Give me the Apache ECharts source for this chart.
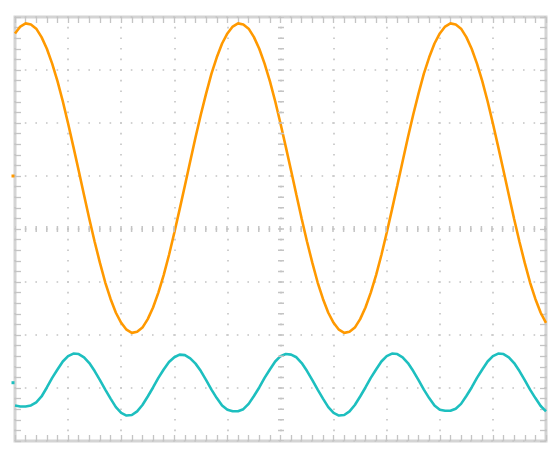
<!DOCTYPE html>
<html>
<head>
<meta charset="utf-8">
<style>
  html, body { margin: 0; padding: 0; background: #fff; }
  #main { width: 560px; height: 457px; }
</style>
<script src="https://cdn.jsdelivr.net/npm/echarts@6/dist/echarts.min.js"></script>
</head>
<body>
<div id="main"></div>
<script>
// 采样间隔（每格 0.1）
const sampleStep = 0.1

// 通道1（橙色）读数，单位：格
const orangeWave = [
  3.69, 3.82, 3.88, 3.86, 3.78, 3.62, 3.40, 3.12, 2.79, 2.41,
  1.99, 1.55, 1.10, 0.64, 0.19, -0.24, -0.64, -1.01, -1.32, -1.58,
  -1.77, -1.90, -1.96, -1.94, -1.86, -1.70, -1.48, -1.20, -0.87, -0.49,
  -0.07, 0.37, 0.82, 1.28, 1.73, 2.16, 2.56, 2.93, 3.24, 3.50,
  3.69, 3.82, 3.88, 3.86, 3.78, 3.62, 3.40, 3.12, 2.79, 2.41,
  1.99, 1.55, 1.10, 0.64, 0.19, -0.24, -0.64, -1.01, -1.32, -1.58,
  -1.77, -1.90, -1.96, -1.94, -1.86, -1.70, -1.48, -1.20, -0.87, -0.49,
  -0.07, 0.37, 0.82, 1.28, 1.73, 2.16, 2.56, 2.93, 3.24, 3.50,
  3.69, 3.82, 3.88, 3.86, 3.78, 3.62, 3.40, 3.12, 2.79, 2.41,
  1.99, 1.55, 1.10, 0.64, 0.19, -0.24, -0.64, -1.01, -1.32, -1.58,
  -1.77,
]

// 通道2（青色）读数，单位：格
const cyanWave = [
  -3.33, -3.35, -3.35, -3.33, -3.27, -3.16, -2.99, -2.81, -2.65, -2.50,
  -2.40, -2.35, -2.36, -2.42, -2.53, -2.68, -2.85, -3.03, -3.20, -3.36,
  -3.47, -3.52, -3.51, -3.44, -3.32, -3.16, -2.99, -2.81, -2.65, -2.51,
  -2.42, -2.37, -2.38, -2.44, -2.54, -2.68, -2.85, -3.03, -3.19, -3.33,
  -3.41, -3.44, -3.44, -3.40, -3.30, -3.15, -2.99, -2.81, -2.65, -2.50,
  -2.40, -2.36, -2.37, -2.42, -2.53, -2.68, -2.85, -3.03, -3.20, -3.36,
  -3.47, -3.52, -3.51, -3.44, -3.32, -3.16, -2.99, -2.81, -2.65, -2.50,
  -2.40, -2.35, -2.36, -2.42, -2.53, -2.68, -2.85, -3.03, -3.19, -3.33,
  -3.41, -3.43, -3.43, -3.39, -3.30, -3.15, -2.99, -2.81, -2.65, -2.50,
  -2.40, -2.35, -2.36, -2.42, -2.53, -2.68, -2.85, -3.03, -3.19, -3.34,
  -3.44,
]

// 通道零点标记位置
const channelLevels = [1.0, -2.9]
const channelColors = ['#ff9900', '#1dbfbf']

const gridColor = '#c4c4c4'

// 边框刻度
function edgeAxis(position, min, max, showSplit) {
  return {
    type: 'value',
    position,
    min,
    max,
    interval: 1,
    axisLine: { show: false, onZero: false },
    axisLabel: { show: false },
    axisTick: { show: true, inside: true, length: 6, lineStyle: { color: gridColor, width: 1.3 } },
    minorTick: { show: true, splitNumber: 5, length: 6, lineStyle: { color: gridColor, width: 1.3 } },
    splitLine: {
      show: showSplit,
      lineStyle: { color: gridColor, width: 1.6, type: [1.6, 9.0], dashOffset: 0.8 },
    },
  }
}

function toPoints(arr) {
  return arr.map((v, i) => [i * sampleStep, v])
}

function waveSeries(arr, idx) {
  return {
    type: 'line',
    data: toPoints(arr),
    showSymbol: false,
    silent: true,
    lineStyle: { color: channelColors[idx], width: 2.6 },
    markPoint: {
      silent: true,
      symbol: 'rect',
      symbolSize: [3, 3],
      symbolOffset: [-2, 0],
      itemStyle: { color: channelColors[idx] },
      label: { show: false },
      data: [{ coord: [0, channelLevels[idx]] }],
    },
  }
}

const centerLineStyle = { color: gridColor, width: 6, type: [1.5, 9.1], dashOffset: 0.75 }

const option = {
  animation: false,
  backgroundColor: '#fff',
  grid: {
    left: 15,
    top: 17,
    width: 531,
    height: 424,
    show: true,
    backgroundColor: '#fff',
    borderColor: '#d4d4d4',
    borderWidth: 3,
  },
  xAxis: [edgeAxis('bottom', 0, 10, true), edgeAxis('top', 0, 10, false)],
  yAxis: [edgeAxis('left', -4, 4, true), edgeAxis('right', -4, 4, false)],
  series: [
    {
      // 中心十字刻度线
      type: 'line',
      data: [],
      silent: true,
      markLine: {
        silent: true,
        symbol: 'none',
        label: { show: false },
        lineStyle: centerLineStyle,
        data: [{ yAxis: 0 }, { xAxis: 5 }],
      },
    },
    waveSeries(orangeWave, 0),
    waveSeries(cyanWave, 1),
  ],
}

const chart = echarts.init(document.getElementById('main'), null, { renderer: 'canvas' })
chart.setOption(option)
</script>
</body>
</html>
